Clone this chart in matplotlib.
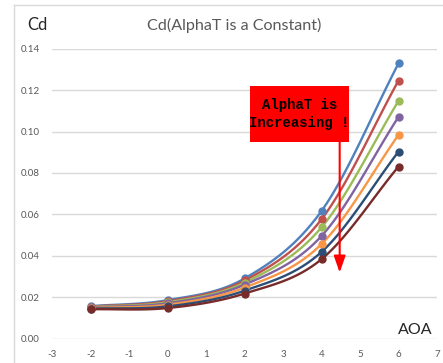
import numpy as np
import matplotlib
matplotlib.use('Agg')
import matplotlib.pyplot as plt
from matplotlib.patches import Rectangle

plt.rcParams['font.family'] = ['Lato', 'DejaVu Sans']

# data
aoa = [-2, 0, 2, 4, 6]
cd_1 = [0.0157, 0.0186, 0.0291, 0.0617, 0.1329]
cd_2 = [0.0155, 0.0181, 0.0281, 0.0577, 0.1246]
cd_3 = [0.0153, 0.0176, 0.0271, 0.0538, 0.1148]
cd_4 = [0.0151, 0.0171, 0.0261, 0.0496, 0.1071]
cd_5 = [0.0148, 0.0164, 0.0247, 0.0457, 0.0984]
cd_6 = [0.0145, 0.0156, 0.0232, 0.0419, 0.0903]
cd_7 = [0.0142, 0.0148, 0.0218, 0.0384, 0.0831]
series = [cd_1, cd_2, cd_3, cd_4, cd_5, cd_6, cd_7]
colors = ['#4F81BD', '#C0504D', '#9BBB59', '#8064A2', '#F79646', '#2C4D75', '#772C2A']
xticks = list(range(-3, 8))
yticks = [0.00, 0.02, 0.04, 0.06, 0.08, 0.10, 0.12, 0.14]


def smooth(x, y, n=30):
    # catmull-rom curve through the points, like excel's smoothed line
    x = np.asarray(x, float); y = np.asarray(y, float)
    px = np.r_[2*x[0]-x[1], x, 2*x[-1]-x[-2]]
    py = np.r_[2*y[0]-y[1], y, 2*y[-1]-y[-2]]
    xs, ys = [], []
    t = np.linspace(0, 1, n)
    for i in range(1, len(px)-2):
        for p, out in ((px, xs), (py, ys)):
            p0, p1, p2, p3 = p[i-1], p[i], p[i+1], p[i+2]
            out.extend(0.5*((2*p1) + (-p0+p2)*t + (2*p0-5*p1+4*p2-p3)*t**2
                            + (-p0+3*p1-3*p2+p3)*t**3))
    return xs, ys


fig = plt.figure(figsize=(4.43, 3.63), dpi=100)
ax = fig.add_axes([0.118, 0.067, 0.8685, 0.799])

for s, c in zip(series, colors):
    sx, sy = smooth(aoa, s)
    ax.plot(sx, sy, color=c, lw=1.7, solid_capstyle='round', zorder=3)
    ax.plot(aoa, s, 'o', color=c, ms=5, zorder=4)

ax.set_xlim(-3, 7)
ax.set_ylim(0, 0.14)
ax.set_xticks(xticks)
ax.set_yticks(yticks)
ax.set_xticklabels([str(v) for v in xticks])
ax.set_yticklabels(['%.2f' % v for v in yticks])
ax.tick_params(length=0, labelsize=7, labelcolor='#595959')
ax.tick_params(axis='x', pad=8)
ax.tick_params(axis='y', pad=9)
for sp in ax.spines.values():
    sp.set_visible(False)
ax.grid(axis='y', color='#D9D9D9', lw=1)
ax.set_axisbelow(True)

# outer chart border (only top/left visible in crop)
fig.add_artist(plt.Line2D([14/443, 1], [1-5/363, 1-5/363], color='#D9D9D9', lw=1))
fig.add_artist(plt.Line2D([14/443, 14/443], [0, 1-5/363], color='#D9D9D9', lw=1))

fig.text(37/443, 1-25/363, 'Cd', fontsize=12, color='#262626', ha='center', va='center')
fig.text(234/443, 1-25/363, 'Cd(AlphaT is a Constant)', fontsize=11.6, color='#595959',
         ha='center', va='center')
fig.text(415/443, 1-330/363, 'AOA', fontsize=11.5, color='#262626', ha='center', va='center')

# annotation box + arrow
box = Rectangle((250/443, 1-142/363), 99/443, 56/363, transform=fig.transFigure,
                facecolor='#FF0000', edgecolor='none', zorder=5)
fig.add_artist(box)
fig.text(299.5/443, 1-114/363, 'AlphaT is\nIncreasing !', family='Liberation Mono',
         fontweight='bold', fontsize=10, ha='center', va='center', linespacing=1.35,
         color='black', zorder=6)
ax.annotate('', xy=(4.47, 0.0319), xytext=(4.47, 0.095),
            arrowprops=dict(arrowstyle='-|>,head_width=0.35,head_length=1.0',
                            color='#FF0000', lw=1.5, shrinkA=0, shrinkB=0), zorder=5)

fig.savefig('out.png', dpi=100)
